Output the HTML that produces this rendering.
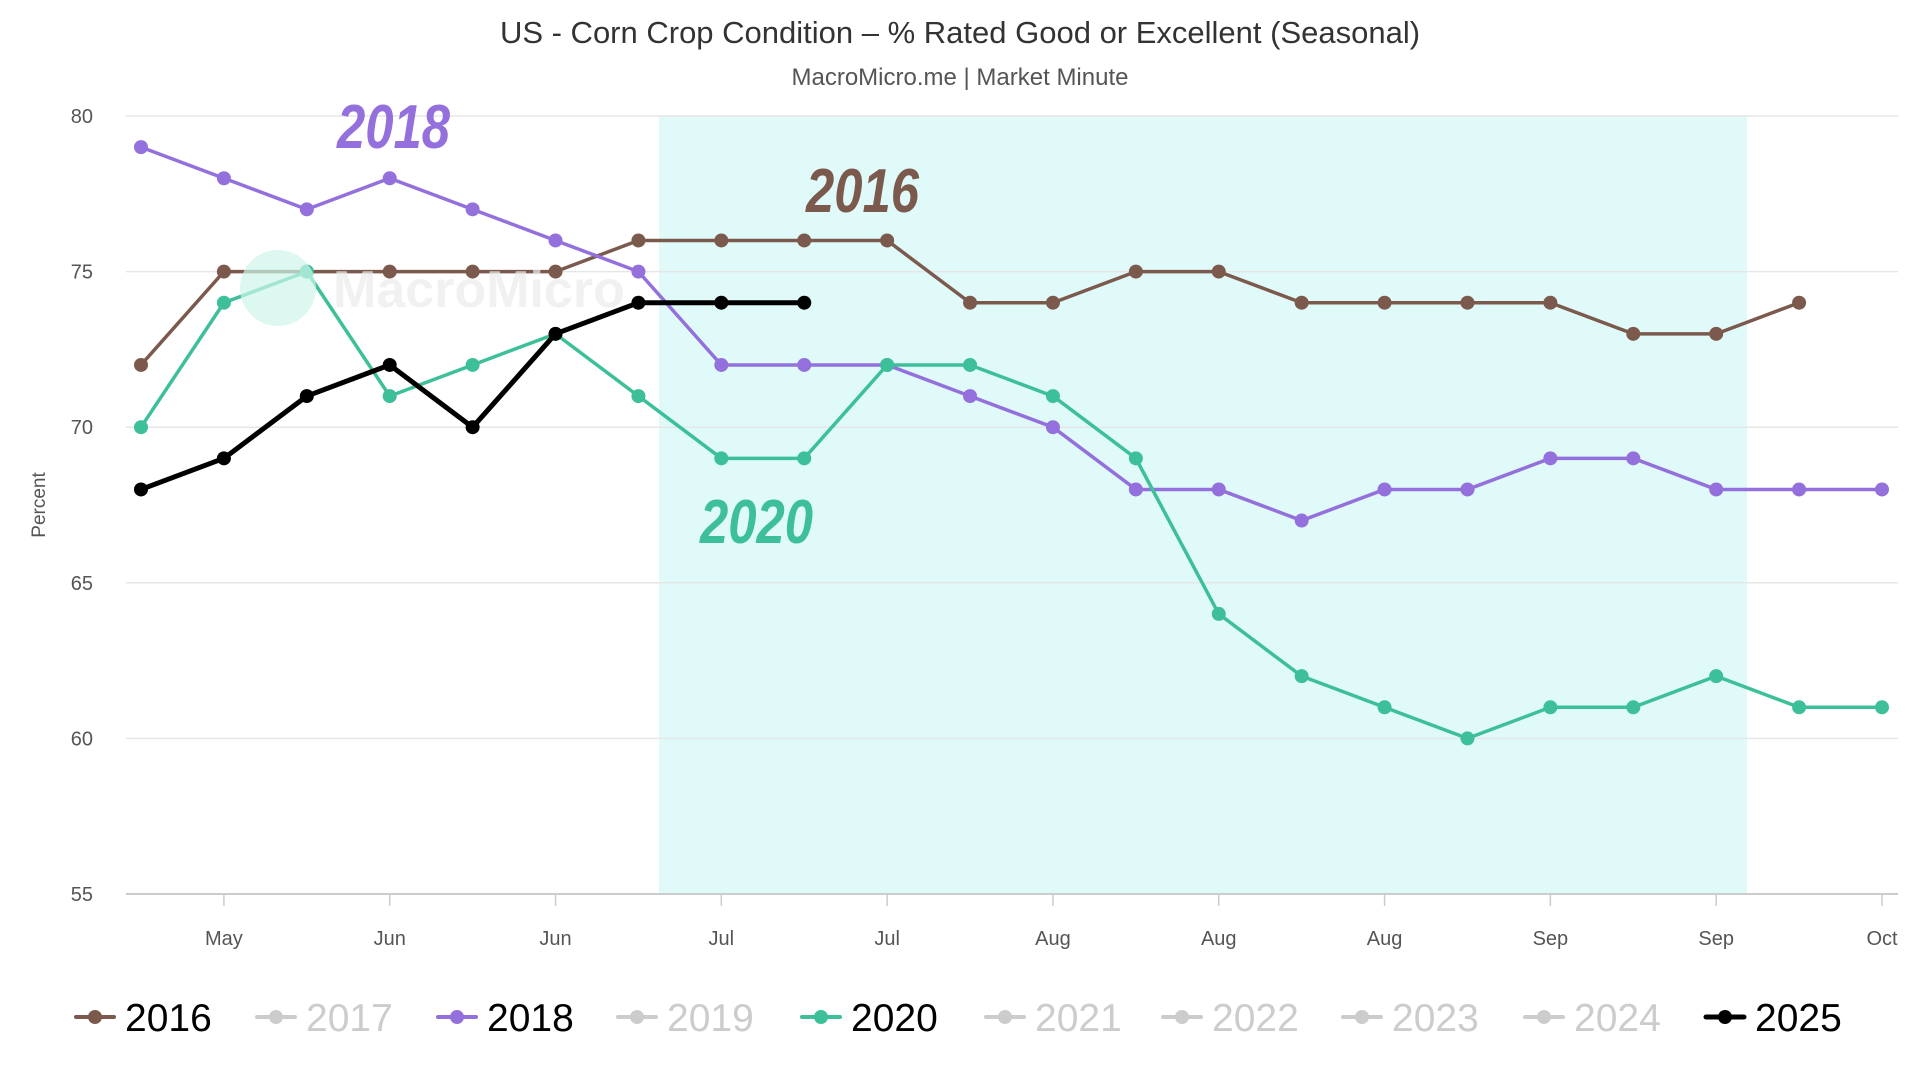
<!DOCTYPE html>
<html><head><meta charset="utf-8"><style>
body{margin:0;background:#fff;}
svg{display:block;font-family:"Liberation Sans",sans-serif;}
</style></head><body>
<svg id="chart" width="1920" height="1080" viewBox="0 0 1920 1080" xmlns="http://www.w3.org/2000/svg">
<text x="960" y="43" text-anchor="middle" font-size="31" fill="#333">US - Corn Crop Condition – % Rated Good or Excellent (Seasonal)</text>
<text x="960" y="85" text-anchor="middle" font-size="24" fill="#555">MacroMicro.me | Market Minute</text>
<g id="plot"></g>
<text transform="translate(45,505) rotate(-90)" text-anchor="middle" font-size="19" fill="#555">Percent</text>
<text x="333" y="307" font-size="52" font-weight="bold" fill="#ececec" opacity="0.7">MacroMicro</text>
<circle cx="278" cy="288" r="38" fill="#cdf5ea" opacity="0.7"/>
<text x="337" y="148" font-size="62" font-weight="bold" font-style="italic" fill="#9370db" transform="translate(337,0) scale(0.82,1) translate(-337,0)">2018</text>
<text x="806" y="212" font-size="62" font-weight="bold" font-style="italic" fill="#7b5a4d" transform="translate(806,0) scale(0.82,1) translate(-806,0)">2016</text>
<text x="700" y="543" font-size="62" font-weight="bold" font-style="italic" fill="#3dbf9a" transform="translate(700,0) scale(0.82,1) translate(-700,0)">2020</text>
<g id="legend"></g>
</svg>
<script>
const categories = ["1","2","3","4","5","6","7","8","9","10","11","12","13","14","15","16","17","18","19","20","21","22"];
const tickLabels = ["May","Jun","Jun","Jul","Jul","Aug","Aug","Aug","Sep","Sep","Oct"];
const yTicks = [55,60,65,70,75,80];
const s2016 = [72,75,75,75,75,75,76,76,76,76,74,74,75,75,74,74,74,74,73,73,74];
const s2018 = [79,78,77,78,77,76,75,72,72,72,71,70,68,68,67,68,68,69,69,68,68,68];
const s2020 = [70,74,75,71,72,73,71,69,69,72,72,71,69,64,62,61,60,61,61,62,61,61];
const s2025 = [68,69,71,72,70,73,74,74,74];
const legendYears = ["2016","2017","2018","2019","2020","2021","2022","2023","2024","2025"];

const NS="http://www.w3.org/2000/svg";
const L=126,R=1898,T=116,B=894, x0=141, dx=(1882-141)/21;
const xs=i=>x0+i*dx, ys=v=>B-(v-55)/25*(B-T);
const plot=document.getElementById('plot');
function mk(tag,attrs,parent){const e=document.createElementNS(NS,tag);for(const k in attrs)e.setAttribute(k,attrs[k]);(parent||plot).appendChild(e);return e;}
let band=mk('rect',{x:659,y:T,width:1747-659,height:B-T,fill:'#e0fafa'});


yTicks.forEach(v=>{
  let g=mk('line',{x1:L,x2:R,y1:ys(v),y2:ys(v),stroke:v===55?'#ccc':'#e6e6e6','stroke-width':v===55?2:1.5});
  
  
  let t=mk('text',{x:93,y:ys(v)+7,'text-anchor':'end','font-size':20,fill:'#555'});
  t.textContent=v;
  
  
});
tickLabels.forEach((lab,k)=>{
  const i=1+2*k;
  let tk=mk('line',{x1:xs(i),x2:xs(i),y1:B,y2:B+12,stroke:'#ccc','stroke-width':1.5});
  
  
  let t=mk('text',{x:xs(i),y:945,'text-anchor':'middle','font-size':20,fill:'#555'});
  t.textContent=lab;
  
  
});
function series(data,color,w,name){
  const g=mk('g',{});
  
  
  mk('polyline',{points:data.map((v,i)=>xs(i)+','+ys(v)).join(' '),fill:'none',stroke:color,'stroke-width':w,'stroke-linejoin':'round'},g);
  data.forEach((v,i)=>{
    let c=mk('circle',{cx:xs(i),cy:ys(v),r:7,fill:color},g);
    
    
  });
}
series(s2016,'#7b5a4d',3.5,'series-2016');
series(s2018,'#9370db',3.5,'series-2018');
series(s2020,'#3dbf9a',3.5,'series-2020');
series(s2025,'#000',5,'series-2025');
const lg=document.getElementById('legend');
const lx=[76,257,438,618,802,986,1163,1343,1525,1706];
const lcol={"2016":'#7b5a4d',"2018":'#9370db',"2020":'#3dbf9a',"2025":'#000'};
legendYears.forEach((y,i)=>{
  const on=lcol[y]; const c=on||'#ccc';
  const g=mk('g',{},lg);
  
  
  mk('line',{x1:lx[i],x2:lx[i]+38,y1:1017,y2:1017,stroke:c,'stroke-width':y==='2025'?5:4,'stroke-linecap':'round'},g);
  mk('circle',{cx:lx[i]+19,cy:1017,r:7,fill:c},g);
  const t=mk('text',{x:lx[i]+49,y:1031,'font-size':39,fill:on?'#000':'#ccc'},g);
  t.textContent=y;
});
</script>
</body></html>
